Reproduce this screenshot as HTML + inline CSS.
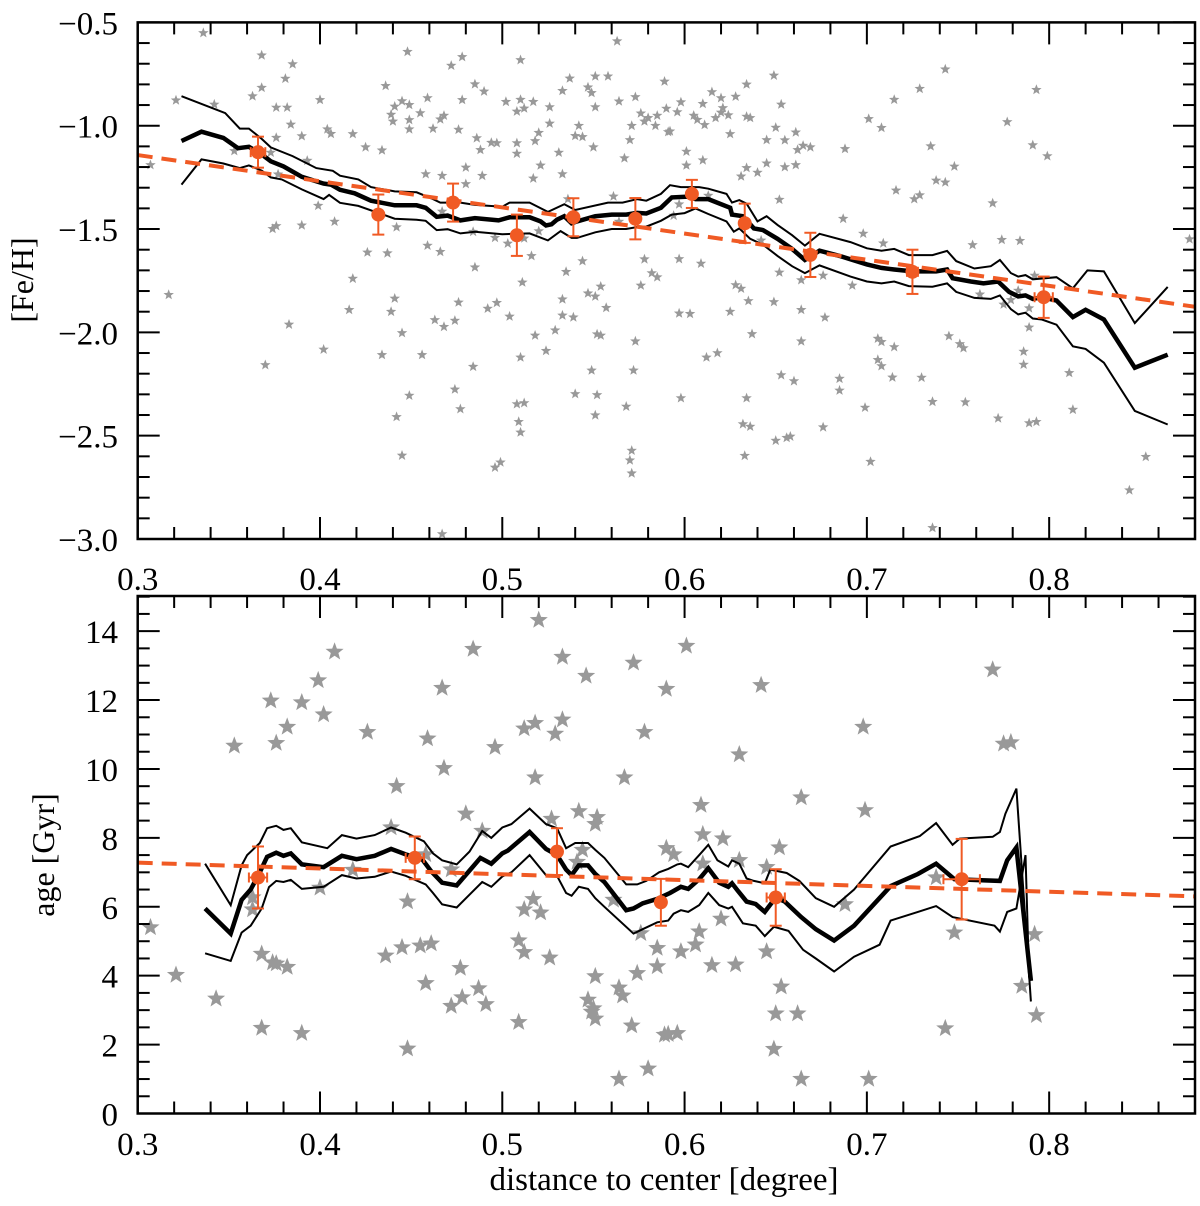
<!DOCTYPE html>
<html><head><meta charset="utf-8"><style>
html,body{margin:0;padding:0;background:#fff}
svg{display:block}
text{font-family:"Liberation Serif",serif;fill:#000}
</style></head><body>
<svg id="fig" width="1200" height="1206" viewBox="0 0 1200 1206" xmlns="http://www.w3.org/2000/svg">
<rect x="0" y="0" width="1200" height="1206" fill="#fff"/>
<g id="top"></g>
<g id="bot"></g>
<text x="0" y="0" font-size="32" text-anchor="middle" transform="translate(33,280) rotate(-90)">[Fe/H]</text>
<text x="0" y="0" font-size="32" text-anchor="middle" transform="translate(54,855) rotate(-90)">age [Gyr]</text>
<text x="664" y="1190" font-size="33" text-anchor="middle">distance to center [degree]</text>
</svg>
<script>
// ===== Top panel data ([Fe/H]) =====
const fehStarX=[0.336,0.368,0.448,0.385,0.478,0.472,0.510,0.563,0.381,0.368,0.436,0.363,0.321,0.342,0.400,0.376,0.382,0.459,0.478,0.485,0.490,0.502,0.510,0.517,0.512,0.508,0.526,0.537,0.533,0.551,0.558,0.547,0.549,0.551,0.564,0.573,0.589,0.590,0.576,0.580,0.585,0.578,0.571,0.584,0.591,0.570,0.567,0.441,0.445,0.449,0.439,0.440,0.449,0.455,0.449,0.462,0.468,0.466,0.476,0.384,0.404,0.406,0.376,0.390,0.418,0.425,0.434,0.526,0.520,0.518,0.486,0.494,0.497,0.488,0.508,0.508,0.542,0.540,0.544,0.550,0.531,0.521,0.533,0.517,0.480,0.480,0.489,0.458,0.467,0.307,0.353,0.373,0.377,0.393,0.399,0.408,0.390,0.374,0.376,0.467,0.561,0.536,0.564,0.442,0.426,0.437,0.459,0.466,0.484,0.496,0.503,0.512,0.520,0.516,0.485,0.544,0.535,0.578,0.582,0.585,0.511,0.554,0.576,0.547,0.551,0.557,0.533,0.317,0.418,0.441,0.416,0.439,0.476,0.497,0.492,0.504,0.463,0.468,0.474,0.533,0.539,0.383,0.445,0.518,0.529,0.552,0.554,0.573,0.402,0.434,0.456,0.524,0.510,0.484,0.549,0.572,0.370,0.449,0.474,0.477,0.540,0.552,0.508,0.512,0.568,0.551,0.442,0.509,0.510,0.445,0.571,0.570,0.571,0.496,0.499,0.467,
0.649,0.634,0.615,0.620,0.628,0.610,0.598,0.596,0.605,0.607,0.611,0.617,0.620,0.621,0.624,0.634,0.636,0.625,0.592,0.653,0.650,0.645,0.655,0.661,0.662,0.665,0.669,0.661,0.655,0.645,0.640,0.634,0.631,0.601,0.601,0.610,0.652,0.688,0.701,0.708,0.715,0.729,0.743,0.735,0.748,0.716,0.726,0.729,0.738,0.743,0.777,0.793,0.791,0.799,0.769,0.687,0.698,0.709,0.758,0.774,0.784,0.877,0.594,0.597,0.613,0.642,0.597,0.609,0.652,0.676,0.664,0.692,0.628,0.631,0.635,0.649,0.625,0.597,0.603,0.664,0.677,0.762,0.775,0.779,0.783,0.792,0.789,0.789,0.637,0.664,0.612,0.618,0.706,0.708,0.715,0.745,0.751,0.753,0.786,0.786,0.706,0.708,0.653,0.660,0.685,0.685,0.714,0.730,0.811,0.598,0.634,0.699,0.736,0.754,0.813,0.632,0.636,0.676,0.650,0.656,0.658,0.772,0.789,0.793,0.633,0.702,0.853,0.844,0.736];
const fehStarY=[-0.551,-0.659,-0.642,-0.702,-0.667,-0.709,-0.682,-0.591,-0.772,-0.816,-0.807,-0.857,-0.877,-0.897,-0.875,-0.912,-0.912,-0.866,-0.875,-0.799,-0.834,-0.884,-0.874,-0.884,-0.916,-0.931,-0.910,-0.771,-0.831,-0.761,-0.761,-0.814,-0.841,-0.910,-0.882,-0.861,-0.786,-0.917,-0.940,-0.962,-0.951,-0.979,-1.000,-1.000,-1.030,-1.069,-1.157,-0.907,-0.881,-0.899,-0.946,-0.979,-0.972,-0.939,-1.017,-1.014,-0.951,-0.969,-1.019,-0.994,-1.017,-1.039,-1.058,-1.050,-1.040,-1.104,-1.119,-0.989,-1.034,-1.074,-1.060,-1.082,-1.084,-1.117,-1.084,-1.135,-1.000,-1.049,-1.054,-1.104,-1.130,-1.192,-1.234,-1.255,-1.202,-1.282,-1.242,-1.234,-1.242,-1.190,-1.122,-1.130,-1.235,-1.169,-1.387,-1.464,-1.482,-1.499,-1.485,-1.415,-1.342,-1.355,-1.464,-1.491,-1.613,-1.617,-1.580,-1.610,-1.513,-1.542,-1.570,-1.545,-1.510,-1.630,-1.685,-1.655,-1.707,-1.646,-1.713,-1.733,-1.758,-1.778,-1.773,-1.811,-1.826,-1.881,-1.840,-1.818,-1.740,-1.836,-1.891,-1.900,-1.855,-1.857,-1.885,-1.923,-1.940,-1.973,-1.943,-1.918,-1.927,-1.962,-2.003,-2.015,-1.990,-2.009,-2.015,-2.043,-2.083,-2.109,-2.109,-2.089,-2.121,-2.166,-2.184,-2.184,-2.158,-2.306,-2.276,-2.371,-2.298,-2.303,-2.347,-2.342,-2.359,-2.401,-2.409,-2.433,-2.484,-2.596,-2.572,-2.619,-2.682,-2.654,-2.629,-2.976,
-0.757,-0.800,-0.837,-0.866,-0.859,-0.894,-0.886,-0.934,-0.951,-0.971,-0.996,-0.962,-0.936,-0.914,-0.949,-0.956,-0.962,-1.040,-1.027,-0.897,-1.009,-1.069,-1.070,-1.032,-1.117,-1.096,-1.104,-1.190,-1.200,-1.182,-1.227,-1.204,-1.245,-1.125,-1.192,-1.167,-1.358,-1.112,-0.967,-1.010,-0.874,-0.821,-0.727,-1.099,-1.197,-1.313,-1.355,-1.336,-1.265,-1.274,-0.982,-0.826,-1.094,-1.147,-1.375,-1.450,-1.522,-1.569,-1.577,-1.552,-1.557,-1.549,-1.435,-1.380,-1.338,-1.555,-1.645,-1.667,-1.710,-1.725,-1.747,-1.773,-1.771,-1.788,-1.848,-1.853,-1.900,-1.908,-1.910,-1.891,-1.928,-1.816,-1.865,-1.843,-1.798,-1.725,-1.883,-1.976,-2.008,-2.043,-2.121,-2.100,-2.030,-2.046,-2.071,-2.018,-2.056,-2.076,-2.093,-2.156,-2.133,-2.163,-2.207,-2.236,-2.224,-2.281,-2.218,-2.219,-2.196,-2.318,-2.318,-2.364,-2.336,-2.338,-2.374,-2.444,-2.456,-2.459,-2.524,-2.510,-2.504,-2.416,-2.439,-2.433,-2.597,-2.626,-2.602,-2.764,-2.946];
const fehMedX=[0.324,0.335,0.347,0.355,0.361,0.368,0.373,0.380,0.390,0.402,0.406,0.411,0.419,0.428,0.441,0.453,0.458,0.464,0.470,0.477,0.485,0.498,0.504,0.515,0.521,0.524,0.527,0.530,0.534,0.538,0.541,0.551,0.560,0.568,0.574,0.579,0.587,0.593,0.602,0.606,0.613,0.625,0.626,0.632,0.638,0.643,0.651,0.659,0.666,0.674,0.685,0.700,0.708,0.715,0.725,0.738,0.744,0.747,0.757,0.764,0.772,0.778,0.783,0.787,0.791,0.796,0.804,0.813,0.820,0.830,0.847,0.865];
const fehMedY=[-1.074,-1.029,-1.059,-1.109,-1.102,-1.139,-1.172,-1.197,-1.247,-1.280,-1.285,-1.310,-1.327,-1.363,-1.385,-1.385,-1.397,-1.441,-1.435,-1.458,-1.447,-1.458,-1.443,-1.443,-1.463,-1.483,-1.477,-1.455,-1.438,-1.472,-1.463,-1.438,-1.430,-1.430,-1.422,-1.425,-1.397,-1.347,-1.343,-1.355,-1.355,-1.397,-1.430,-1.438,-1.497,-1.505,-1.547,-1.596,-1.650,-1.605,-1.630,-1.671,-1.688,-1.696,-1.705,-1.705,-1.696,-1.738,-1.754,-1.763,-1.754,-1.804,-1.826,-1.821,-1.838,-1.830,-1.846,-1.926,-1.891,-1.938,-2.171,-2.108];
const fehUpX=[0.324,0.348,0.356,0.361,0.368,0.373,0.385,0.398,0.407,0.411,0.421,0.428,0.441,0.453,0.462,0.466,0.477,0.485,0.500,0.504,0.515,0.525,0.534,0.540,0.558,0.566,0.574,0.579,0.587,0.592,0.598,0.608,0.613,0.623,0.626,0.630,0.634,0.640,0.645,0.651,0.659,0.666,0.674,0.691,0.700,0.708,0.715,0.723,0.736,0.744,0.749,0.759,0.768,0.773,0.779,0.783,0.787,0.791,0.804,0.813,0.821,0.830,0.847,0.865];
const fehUpY=[-0.857,-0.939,-1.014,-1.014,-1.064,-1.105,-1.147,-1.205,-1.218,-1.242,-1.260,-1.297,-1.318,-1.322,-1.355,-1.372,-1.372,-1.383,-1.392,-1.372,-1.372,-1.417,-1.380,-1.408,-1.372,-1.372,-1.355,-1.363,-1.330,-1.288,-1.297,-1.297,-1.305,-1.330,-1.372,-1.360,-1.377,-1.463,-1.438,-1.480,-1.530,-1.580,-1.523,-1.563,-1.593,-1.605,-1.596,-1.626,-1.626,-1.606,-1.655,-1.691,-1.680,-1.650,-1.713,-1.730,-1.723,-1.743,-1.733,-1.787,-1.700,-1.705,-1.955,-1.780];
const fehLoX=[0.324,0.335,0.347,0.356,0.361,0.368,0.373,0.379,0.390,0.402,0.405,0.411,0.421,0.432,0.441,0.453,0.458,0.464,0.470,0.477,0.485,0.500,0.515,0.525,0.532,0.538,0.541,0.551,0.560,0.568,0.574,0.579,0.587,0.593,0.600,0.606,0.613,0.623,0.627,0.630,0.636,0.643,0.651,0.659,0.666,0.674,0.691,0.700,0.708,0.715,0.723,0.736,0.744,0.749,0.759,0.768,0.773,0.779,0.783,0.787,0.791,0.796,0.804,0.813,0.820,0.830,0.847,0.865];
const fehLoY=[-1.285,-1.163,-1.183,-1.205,-1.192,-1.217,-1.250,-1.260,-1.308,-1.355,-1.335,-1.373,-1.388,-1.422,-1.450,-1.455,-1.460,-1.505,-1.501,-1.521,-1.513,-1.525,-1.521,-1.555,-1.510,-1.543,-1.543,-1.516,-1.500,-1.500,-1.490,-1.488,-1.460,-1.430,-1.423,-1.400,-1.427,-1.463,-1.513,-1.497,-1.547,-1.576,-1.630,-1.680,-1.713,-1.676,-1.730,-1.754,-1.763,-1.754,-1.776,-1.779,-1.763,-1.804,-1.833,-1.838,-1.821,-1.888,-1.913,-1.905,-1.933,-1.938,-1.963,-2.068,-2.080,-2.147,-2.380,-2.446];
const fehBinX=[0.366,0.432,0.473,0.508,0.539,0.573,0.604,0.633,0.669,0.725,0.797];
const fehBinY=[-1.128,-1.430,-1.372,-1.530,-1.443,-1.450,-1.330,-1.472,-1.625,-1.707,-1.830];
const fehBinErr=[0.075,0.097,0.092,0.100,0.092,0.100,0.068,0.095,0.107,0.107,0.100];
const fehBinXErr=[0.004,0.002,0.002,0.002,0.002,0.002,0.002,0.002,0.002,0.003,0.005];
const fehFit=[-1.142,-1.266]; // value at x=0.3, slope
const fehYTicks=[-0.5,-1.0,-1.5,-2.0,-2.5,-3.0];
const fehYTickLabels=["\u22120.5","\u22121.0","\u22121.5","\u22122.0","\u22122.5","\u22123.0"];

// ===== Bottom panel data (age) =====
const ageStarX=[0.520,0.484,0.408,0.533,0.572,0.546,0.399,0.467,0.590,0.373,0.390,0.402,0.382,0.426,0.459,0.376,0.353,0.496,0.512,0.518,0.533,0.529,0.578,0.468,0.518,0.567,0.442,0.480,0.542,0.552,0.551,0.527,0.439,0.489,0.590,0.544,0.541,0.458,0.472,0.418,0.400,0.363,0.363,0.448,0.517,0.512,0.521,0.561,0.307,0.509,0.512,0.526,0.576,0.585,0.585,0.574,0.436,0.445,0.455,0.461,0.477,0.368,0.374,0.376,0.382,0.321,0.458,0.487,0.478,0.472,0.491,0.551,0.564,0.566,0.547,0.549,0.551,0.550,0.343,0.509,0.571,0.589,0.368,0.390,0.448,0.580,0.564,
0.601,0.642,0.769,0.698,0.775,0.779,0.630,0.664,0.699,0.609,0.610,0.621,0.594,0.652,0.610,0.630,0.645,0.738,0.688,0.620,0.608,0.606,0.598,0.615,0.628,0.645,0.748,0.792,0.653,0.785,0.650,0.662,0.793,0.591,0.596,0.743,0.649,0.664,0.701];
const ageStarY=[14.32,13.48,13.40,13.25,13.08,12.70,12.57,12.35,12.32,11.98,11.93,11.58,11.22,11.07,10.88,10.75,10.67,10.63,11.17,11.33,11.43,11.02,11.07,10.02,9.75,9.75,9.50,8.70,8.77,8.60,8.40,8.55,8.30,8.20,7.70,7.65,7.30,7.52,7.08,7.07,6.55,6.27,5.92,6.15,6.22,5.92,5.83,6.20,5.40,5.02,4.68,4.52,5.23,4.80,4.27,4.07,4.58,4.82,4.87,4.93,4.22,4.63,4.38,4.35,4.25,4.02,3.78,3.63,3.37,3.12,3.17,3.98,3.65,3.42,3.30,2.95,2.75,3.05,3.33,2.65,2.55,2.28,2.48,2.33,1.88,1.30,1.00,
13.57,12.43,12.88,11.22,10.73,10.77,10.42,9.17,8.80,8.95,8.10,7.98,7.52,7.72,7.25,7.35,7.15,6.85,6.07,5.65,5.28,4.90,4.70,4.30,4.32,4.70,5.25,5.20,3.68,3.70,2.90,2.90,2.85,2.30,2.33,2.47,1.87,1.00,1.00];
const ageMedX=[0.337,0.351,0.357,0.362,0.367,0.371,0.376,0.380,0.384,0.390,0.402,0.412,0.420,0.430,0.439,0.447,0.456,0.461,0.467,0.475,0.482,0.488,0.494,0.500,0.503,0.515,0.524,0.530,0.535,0.538,0.542,0.547,0.551,0.556,0.568,0.572,0.577,0.585,0.592,0.598,0.602,0.608,0.613,0.619,0.624,0.626,0.629,0.634,0.639,0.644,0.650,0.655,0.664,0.672,0.682,0.693,0.713,0.728,0.738,0.748,0.763,0.773,0.777,0.782,0.790];
const ageMedY=[5.95,5.22,6.20,6.50,7.00,7.45,7.57,7.48,7.55,7.23,7.15,7.48,7.38,7.48,7.68,7.52,7.38,7.03,6.70,6.62,7.05,7.42,7.25,7.55,7.63,8.17,7.68,7.50,7.08,6.92,7.20,7.20,6.95,6.72,5.90,5.95,6.10,6.23,6.40,6.58,6.52,6.80,7.12,6.70,6.58,6.68,6.48,6.15,6.08,5.85,6.27,6.15,5.70,5.35,5.02,5.45,6.60,6.95,7.25,6.80,6.77,6.75,7.35,7.72,3.85];
const ageUpX=[0.337,0.351,0.357,0.360,0.367,0.371,0.376,0.380,0.384,0.390,0.404,0.412,0.420,0.430,0.439,0.447,0.457,0.462,0.467,0.475,0.482,0.489,0.494,0.500,0.505,0.515,0.524,0.530,0.535,0.540,0.547,0.551,0.556,0.568,0.574,0.579,0.586,0.591,0.596,0.598,0.602,0.608,0.613,0.618,0.624,0.626,0.630,0.634,0.638,0.644,0.647,0.656,0.663,0.672,0.682,0.693,0.713,0.729,0.738,0.747,0.751,0.769,0.773,0.776,0.782,0.790];
const ageUpY=[7.25,6.05,7.20,7.50,7.85,8.28,8.35,8.23,8.28,7.87,7.70,8.08,7.98,8.08,8.30,8.15,7.90,7.55,7.35,7.23,7.60,8.20,8.00,8.30,8.40,8.85,8.40,8.28,7.70,7.85,7.85,7.65,7.42,6.65,6.65,6.75,7.00,7.10,7.23,7.25,7.15,7.50,7.80,7.35,7.17,7.35,7.25,6.82,6.75,6.68,7.08,6.98,6.75,6.25,6.00,6.50,7.75,8.05,8.43,7.80,7.98,8.03,8.17,8.70,9.43,3.25];
const ageLoX=[0.337,0.351,0.357,0.362,0.368,0.372,0.376,0.380,0.384,0.390,0.402,0.412,0.420,0.430,0.439,0.447,0.458,0.462,0.467,0.475,0.482,0.489,0.494,0.500,0.505,0.515,0.524,0.530,0.535,0.538,0.542,0.547,0.551,0.556,0.572,0.577,0.585,0.591,0.594,0.598,0.602,0.608,0.613,0.619,0.624,0.626,0.632,0.639,0.644,0.649,0.657,0.665,0.672,0.682,0.693,0.707,0.713,0.728,0.738,0.747,0.770,0.773,0.777,0.782,0.787,0.789];
const ageLoY=[4.65,4.43,5.25,5.45,5.95,6.57,6.75,6.72,6.78,6.52,6.58,6.92,6.82,6.87,7.02,6.90,6.65,6.40,6.07,5.98,6.35,6.72,6.58,6.88,7.00,7.50,6.92,6.90,6.40,6.32,6.58,6.52,6.25,6.00,5.22,5.35,5.55,5.60,5.80,5.90,5.85,6.05,6.40,6.05,5.95,6.00,5.52,5.45,5.15,5.42,5.30,4.75,4.50,4.12,4.55,4.90,5.60,5.85,6.02,5.70,5.45,5.28,5.85,5.95,7.50,3.95];
const ageBinX=[0.366,0.452,0.530,0.587,0.650,0.752];
const ageBinY=[6.85,7.42,7.60,6.13,6.27,6.80];
const ageBinErr=[0.90,0.62,0.68,0.68,0.82,1.17];
const ageBinXErr=[0.005,0.005,0.002,0.002,0.005,0.010];
const ageFit=[7.28,-1.687];
const ageYTicks=[0,2,4,6,8,10,12,14];
const ageYTickLabels=["0","2","4","6","8","10","12","14"];

const xTicks=[0.3,0.4,0.5,0.6,0.7,0.8];
const xTickLabels=["0.3","0.4","0.5","0.6","0.7","0.8"];

// ===== layout =====
const NS="http://www.w3.org/2000/svg";
const L=137.7,R=1195,XMIN=0.3,XMAX=0.88;
const sx=v=>L+(v-XMIN)/(XMAX-XMIN)*(R-L);
const ORANGE="#f05a24",GREY="#999999";
function mk(parent,tag,attrs){const e=document.createElementNS(NS,tag);for(const k in attrs)e.setAttribute(k,attrs[k]);parent.appendChild(e);return e;}
function starPath(cx,cy,r){let d="";for(let i=0;i<10;i++){const rr=i%2?r*0.42:r;const a=-Math.PI/2+i*Math.PI/5;d+=(i?"L":"M")+(cx+rr*Math.cos(a)).toFixed(1)+","+(cy+rr*Math.sin(a)).toFixed(1);}return d+"Z";}

function panel(g,T,B,ymin,ymax,o){
  const sy=v=>B-(v-ymin)/(ymax-ymin)*(B-T);
  const clipId=o.key+"-clip";
  const defs=mk(g,"defs",{});const cp=mk(defs,"clipPath",{id:clipId});mk(cp,"rect",{x:L,y:T,width:R-L,height:B-T});
  const plot=mk(g,"g",{"clip-path":"url(#"+clipId+")"});
  // stars
  const sg=mk(plot,"g",{});
  
  
  for(let i=0;i<o.sX.length;i++){
    const p=mk(sg,"path",{d:starPath(sx(o.sX[i]),sy(o.sY[i]),o.sr),fill:GREY});
    
    
  }
  const line=(xs,ys,w,name)=>{const pts=xs.map((x,i)=>sx(x).toFixed(1)+","+sy(ys[i]).toFixed(1)).join(" ");
    const pl=mk(plot,"polyline",{points:pts,fill:"none",stroke:"#000","stroke-width":w,"stroke-linejoin":"miter"});
    
    };
  line(o.uX,o.uY,2,o.key+"-upper-line");
  line(o.lX,o.lY,2,o.key+"-lower-line");
  line(o.mX,o.mY,4.5,o.key+"-median-line");
  // fit
  const fl=mk(plot,"line",{x1:sx(XMIN),y1:sy(o.fit[0]),x2:sx(XMAX),y2:sy(o.fit[0]+o.fit[1]*(XMAX-XMIN)),stroke:ORANGE,"stroke-width":4,"stroke-dasharray":"15 9"});
  
  
  // bins
  for(let i=0;i<o.bX.length;i++){
    const bg=mk(plot,"g",{stroke:ORANGE,"stroke-width":2,fill:ORANGE});
    
    
    const cx=sx(o.bX[i]),cy=sy(o.bY[i]),y1=sy(o.bY[i]+o.bE[i]),y2=sy(o.bY[i]-o.bE[i]);
    const x1=sx(o.bX[i]-o.bXE[i]),x2=sx(o.bX[i]+o.bXE[i]);
    mk(bg,"line",{x1:cx,y1:y1,x2:cx,y2:y2});
    mk(bg,"line",{x1:cx-6,y1:y1,x2:cx+6,y2:y1});
    mk(bg,"line",{x1:cx-6,y1:y2,x2:cx+6,y2:y2});
    mk(bg,"line",{x1:x1,y1:cy,x2:x2,y2:cy});
    mk(bg,"line",{x1:x1,y1:cy-5,x2:x1,y2:cy+5});
    mk(bg,"line",{x1:x2,y1:cy-5,x2:x2,y2:cy+5});
    mk(bg,"circle",{cx:cx,cy:cy,r:7,stroke:"none"});
  }
  // ticks
  const tg=mk(g,"g",{stroke:"#000","stroke-width":2});
  
  
  for(let v=XMIN;v<=XMAX+1e-9;v+=0.02){const x=sx(v);const maj=Math.abs(v*10-Math.round(v*10))<1e-6;const len=maj?22:12;
    mk(tg,"line",{x1:x,y1:B,x2:x,y2:B-len});mk(tg,"line",{x1:x,y1:T,x2:x,y2:T+len});}
  for(let v=ymin;v<=ymax+1e-9;v+=o.minor){const y=sy(v);const maj=Math.abs(v/o.major-Math.round(v/o.major))<1e-6;const len=maj?22:12;
    mk(tg,"line",{x1:L,y1:y,x2:L+len,y2:y});mk(tg,"line",{x1:R,y1:y,x2:R-len,y2:y});}
  mk(g,"rect",{x:L,y:T,width:R-L,height:B-T,fill:"none",stroke:"#000","stroke-width":2.5});
  // labels
  o.yT.forEach((v,i)=>{const t=mk(g,"text",{x:118,y:sy(v)+12,"font-size":33,"text-anchor":"end"});t.textContent=o.yL[i];
    
    });
  xTicks.forEach((v,i)=>{const t=mk(g,"text",{x:sx(v),y:o.xly,"font-size":33,"text-anchor":"middle"});t.textContent=xTickLabels[i];
    
    });
}

panel(document.getElementById("top"),22.4,539,-3.0,-0.5,{key:"feh",sX:fehStarX,sY:fehStarY,sr:5.5,mX:fehMedX,mY:fehMedY,uX:fehUpX,uY:fehUpY,lX:fehLoX,lY:fehLoY,bX:fehBinX,bY:fehBinY,bE:fehBinErr,bXE:fehBinXErr,fit:fehFit,yT:fehYTicks,yL:fehYTickLabels,major:0.5,minor:0.1,xly:590});
panel(document.getElementById("bot"),596,1113.5,0,15.02,{key:"age",sX:ageStarX,sY:ageStarY,sr:9.5,mX:ageMedX,mY:ageMedY,uX:ageUpX,uY:ageUpY,lX:ageLoX,lY:ageLoY,bX:ageBinX,bY:ageBinY,bE:ageBinErr,bXE:ageBinXErr,fit:ageFit,yT:ageYTicks,yL:ageYTickLabels,major:2,minor:0.5,xly:1155});
</script>
</body></html>
